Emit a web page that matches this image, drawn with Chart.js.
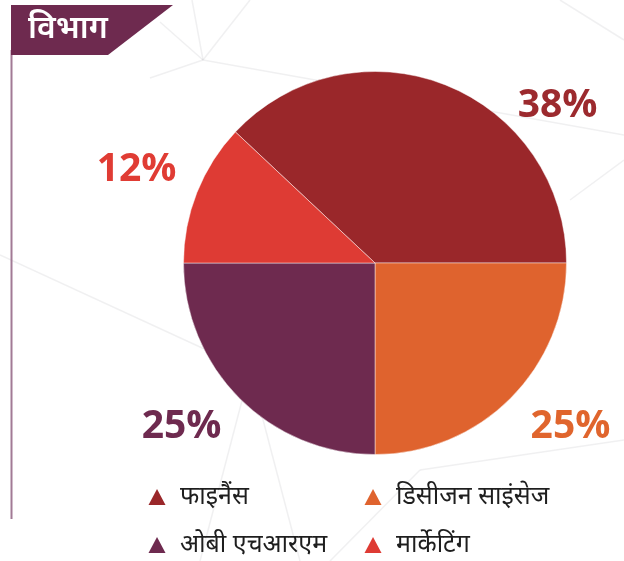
<!DOCTYPE html>
<html>
<head>
<meta charset="utf-8">
<script src="https://cdn.jsdelivr.net/npm/chart.js@4"></script>
<style>
  html, body { margin: 0; padding: 0; background: #ffffff; }
  #wrap { width: 624px; height: 561px; position: relative; }
</style>
</head>
<body>
<div id="wrap"><canvas id="pie" width="624" height="561"></canvas></div>
<script>
const categories = ['फाइनैंस', 'डिसीजन साइंसेज', 'ओबी एचआरएम', 'मार्केटिंग'];
const shares = [38, 25, 25, 12];
const colors = ['#9a272a', '#df632e', '#6e2a4f', '#de3b34'];
const labelColors = ['#9c2a2e', '#e0652d', '#6e2a4f', '#e03c34'];
const title = 'विभाग';

const devFont = "'Noto Sans', 'DejaVu Sans', 'Liberation Sans', sans-serif";
const numFont = "'Open Sans', 'Noto Sans', sans-serif";

// faint network lines behind everything
const backdrop = {
    id: 'backdrop',
    beforeDraw(chart) {
        const c = chart.ctx;
        c.save();
        c.strokeStyle = 'rgba(200, 200, 205, 0.28)';
        c.lineWidth = 1.5;
        const segs = [
            [[160, 22], [203, 60]], [[203, 60], [250, 0]], [[203, 60], [192, 0]],
            [[203, 60], [624, 135]], [[203, 60], [150, 78]], [[0, 255], [250, 370]],
            [[250, 370], [200, 561]], [[250, 370], [300, 561]], [[560, 0], [624, 40]],
            [[570, 200], [624, 160]], [[330, 561], [420, 470]], [[420, 470], [624, 440]]
        ];
        segs.forEach(([a, b]) => {
            c.beginPath();
            c.moveTo(a[0], a[1]);
            c.lineTo(b[0], b[1]);
            c.stroke();
        });
        c.restore();
    }
};

// title banner, side rule, outside % labels and triangle legend
const decor = {
    id: 'decor',
    afterDraw(chart) {
        const c = chart.ctx;
        const arc = chart.getDatasetMeta(0).data[0];
        const cx = arc.x, cy = arc.y, r = arc.outerRadius;

        c.save();
        // side rule
        c.strokeStyle = '#a27a95';
        c.lineWidth = 2;
        c.beginPath();
        c.moveTo(11.5, 50);
        c.lineTo(11.5, 519);
        c.stroke();

        // banner
        c.fillStyle = '#6e2a4f';
        c.beginPath();
        c.moveTo(11, 5);
        c.lineTo(173, 5);
        c.lineTo(108, 55);
        c.lineTo(11, 55);
        c.closePath();
        c.fill();
        c.fillStyle = '#ffffff';
        c.font = '600 32px ' + devFont;
        c.textBaseline = 'middle';
        c.textAlign = 'left';
        c.fillText(title, 28, 29);

        // percentage labels, offsets relative to pie centre
        const offs = [[183, -158], [196, 164], [-194, 164], [-239, -93]];
        c.font = 'bold 39px ' + numFont;
        c.textAlign = 'center';
        shares.forEach((v, i) => {
            c.fillStyle = labelColors[i];
            c.fillText(v + '%', cx + offs[i][0] * r / 192, cy + offs[i][1] * r / 192);
        });

        // legend in two columns
        const pos = [[157, 497], [373, 497], [157, 545], [373, 545]];
        c.font = '25px ' + devFont;
        c.textAlign = 'left';
        categories.forEach((name, k) => {
            const [x, y] = pos[k];
            c.fillStyle = colors[k];
            c.beginPath();
            c.moveTo(x, y - 8);
            c.lineTo(x + 8.5, y + 8);
            c.lineTo(x - 8.5, y + 8);
            c.closePath();
            c.fill();
            c.fillStyle = '#1e1e1e';
            c.fillText(name, x + 23, y);
        });
        c.restore();
    }
};

new Chart(document.getElementById('pie'), {
    type: 'pie',
    data: {
        labels: categories,
        datasets: [{
            data: shares,
            backgroundColor: colors,
            borderColor: 'rgba(255, 255, 255, 0.45)',
            borderWidth: 1
        }]
    },
    options: {
        responsive: false,
        animation: false,
        rotation: -46.8,
        layout: { padding: { left: 183, right: 57, top: 71, bottom: 106 } },
        plugins: {
            legend: { display: false },
            tooltip: { enabled: false }
        }
    },
    plugins: [backdrop, decor]
});
</script>
</body>
</html>
